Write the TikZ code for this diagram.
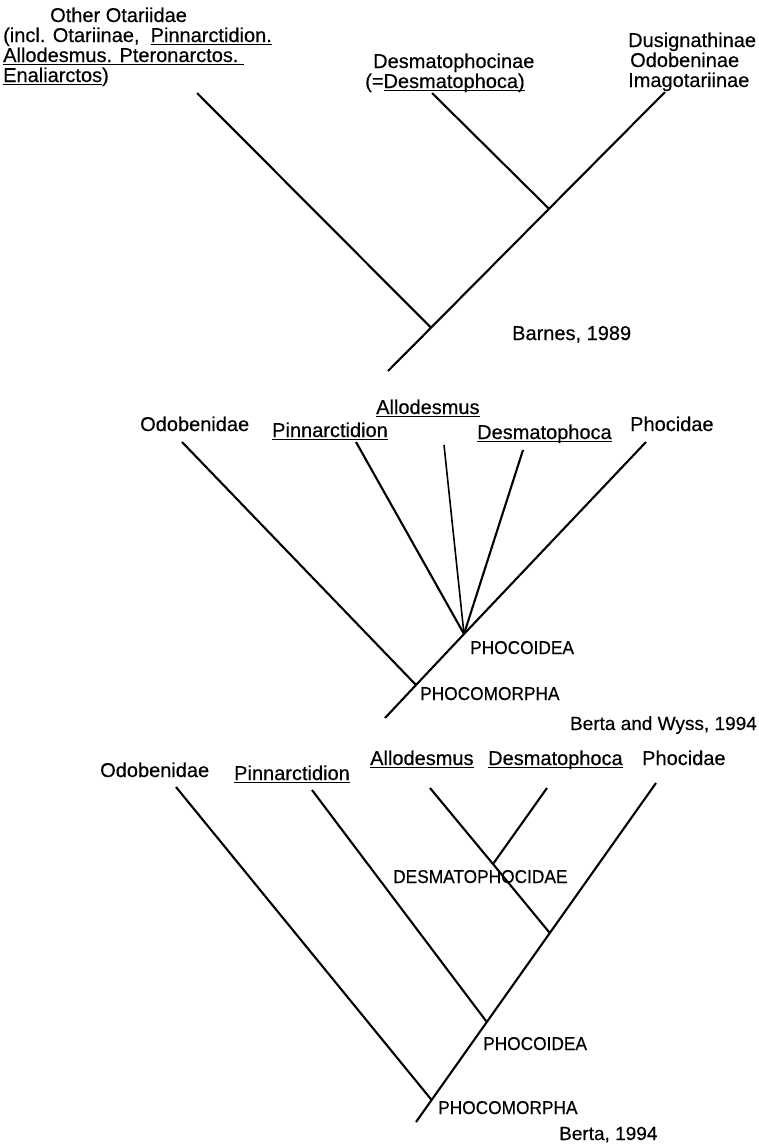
\documentclass[tikz,border=0pt]{standalone}
\usepackage{fontspec}
\setmainfont{Liberation Sans}[FakeBold=0.4]
\newfontfamily\capfont{Liberation Sans}[FakeBold=0.3,FakeStretch=0.93]
\newcommand{\uln}[1]{\setbox0\hbox{#1}\rlap{\rule[-3.4pt]{\wd0}{1.3pt}}\box0}
\begin{document}
\begin{tikzpicture}[x=1pt,y=-1pt,
  br/.style={line width=2.1pt,line cap=butt},
  lab/.style={inner sep=0pt,anchor=base west,font=\fontsize{20}{20}\selectfont},
  capl/.style={inner sep=0pt,anchor=base west,font=\capfont\fontsize{18.6}{19}\selectfont},
  cite/.style={inner sep=0pt,anchor=base east,font=\fontsize{19}{20}\selectfont}]
\useasboundingbox (0,0) rectangle (759,1144);
\fill[white] (0,0) rectangle (759,1144);

% ---------------- Barnes, 1989 ----------------
\node[lab] (oo1) at (50,22) {Other Otariidae};
\node[lab] (oo2) at (3,42) {(incl. Otariinae,\ \ \uln{Pinnarctidion.}};
\node[lab] (oo3) at (3,62) {\uln{Allodesmus. Pteronarctos.\ }};
\node[lab] (oo4) at (3,82) {\uln{Enaliarctos})};
\node[lab] (dp1) at (373,68) {Desmatophocinae};
\node[lab] (dp2) at (365,88) {(=\uln{Desmatophoca)}};
\node[lab] (du1) at (628,47) {Dusignathinae};
\node[lab] (du2) at (630,67) {Odobeninae};
\node[lab] (du3) at (628,87) {Imagotariinae};
\node[lab] (ba) at (512,340) {Barnes, 1989};

\coordinate (r1) at (388,371);
\coordinate (n1) at (431,327.7);
\coordinate (n2) at (549,208.8);
\coordinate (t1a) at (197,93);
\coordinate (t1b) at (432,93);
\coordinate (t1c) at (665,92);
\draw[br] (r1) -- (n1) -- (n2) -- (t1c);
\draw[br] (n1) -- (t1a);
\draw[br] (n2) -- (t1b);

% ---------------- Berta and Wyss, 1994 ----------------
\node[lab] (m1) at (140,431) {Odobenidae};
\node[lab] (m2) at (272,437) {\uln{Pinnarctidion}};
\node[lab] (m3) at (376,414) {\uln{Allodesmus}};
\node[lab] (m4) at (477,439) {\uln{Desmatophoca}};
\node[lab] (m5) at (630,431) {Phocidae};
\node[capl] (mpi) at (470,654) {PHOCOIDEA};
\node[capl] (mpm) at (420,700) {PHOCOMORPHA};
\node[cite] (bw) at (757,730) {Berta and Wyss, 1994};

\coordinate (r2) at (385,718);
\coordinate (n3) at (416,685);
\coordinate (n4) at (464,634);
\coordinate (t2a) at (182,442);
\coordinate (t2b) at (356,442);
\coordinate (t2c) at (444,445);
\coordinate (t2d) at (523,450);
\coordinate (t2e) at (646,442);
\draw[br] (r2) -- (n3) -- (n4) -- (t2e);
\draw[br] (n3) -- (t2a);
\draw[br] (n4) -- (t2b);
\draw[br,line width=1.6pt] (n4) -- (t2c);
\draw[br] (n4) -- (t2d);

% ---------------- Berta, 1994 ----------------
\node[lab] (b1) at (100,777) {Odobenidae};
\node[lab] (b2) at (234,780) {\uln{Pinnarctidion}};
\node[lab] (b3) at (370,765) {\uln{Allodesmus}};
\node[lab] (b4) at (488,765) {\uln{Desmatophoca}};
\node[lab] (b5) at (642,765) {Phocidae};
\node[capl] (bds) at (393,883) {DESMATOPHOCIDAE};
\node[capl] (bpi) at (483,1050) {PHOCOIDEA};
\node[capl] (bpm) at (438,1114) {PHOCOMORPHA};
\node[cite,anchor=base west] (be) at (559,1140) {Berta, 1994};

\coordinate (r3) at (416,1122);
\coordinate (n5) at (431.6,1100);
\coordinate (n6) at (486.8,1022);
\coordinate (n7) at (549.8,933);
\coordinate (n8) at (493,864);
\coordinate (t3a) at (176,787);
\coordinate (t3b) at (312,790);
\coordinate (t3c) at (430,788);
\coordinate (t3d) at (547,788);
\coordinate (t3e) at (656,783);
\draw[br] (r3) -- (n5) -- (n6) -- (n7) -- (t3e);
\draw[br] (n5) -- (t3a);
\draw[br] (n6) -- (t3b);
\draw[br] (n7) -- (n8) -- (t3c);
\draw[br] (n8) -- (t3d);
\end{tikzpicture}
\end{document}
